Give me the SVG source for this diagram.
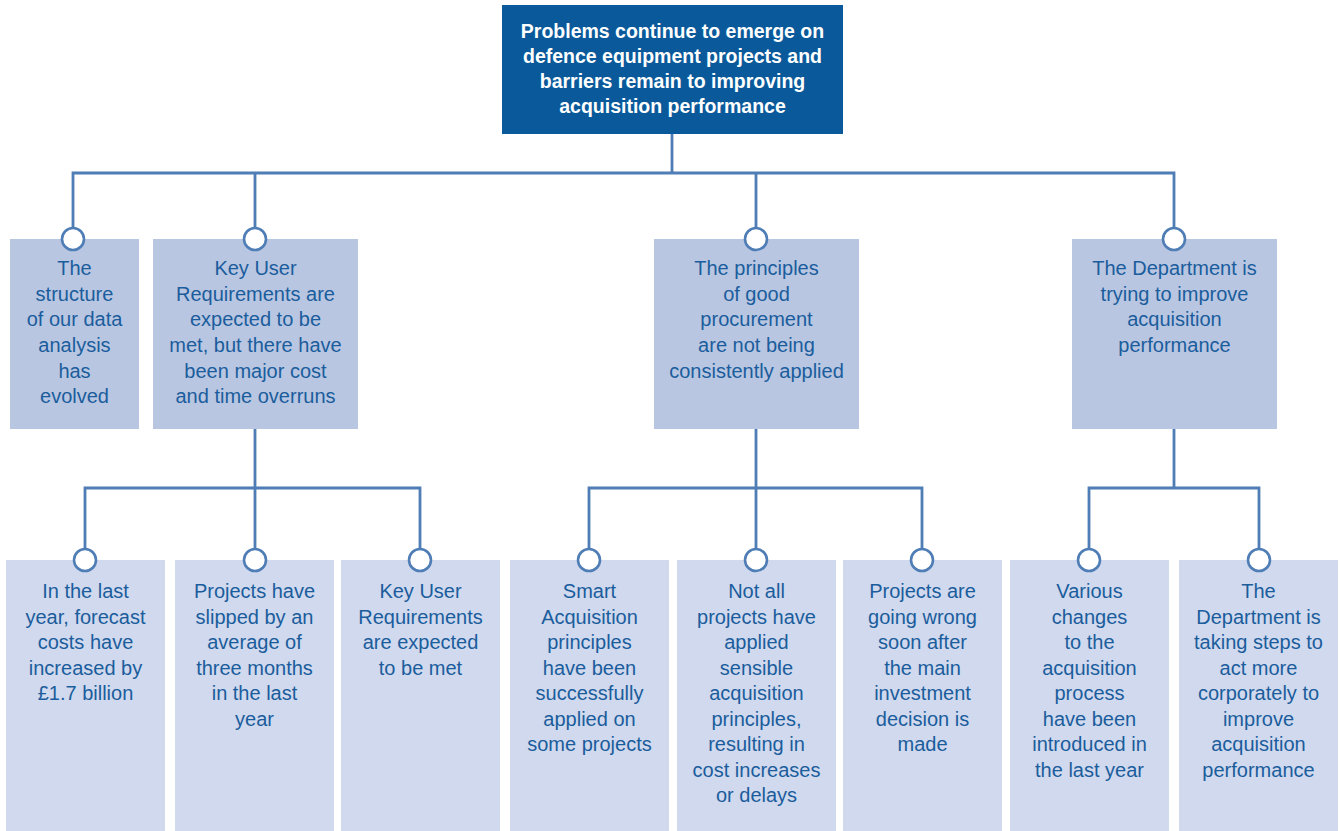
<svg xmlns="http://www.w3.org/2000/svg" width="1340" height="831" viewBox="0 0 1340 831">
<style>
.l1{fill:#b8c6e2}
.l2{fill:#d0d9ee}
.t{font-family:"Liberation Sans",Arial,sans-serif;font-size:20px;fill:#1b5d9c;text-anchor:middle}
.tt{font-family:"Liberation Sans",Arial,sans-serif;font-size:19.5px;font-weight:bold;fill:#ffffff;text-anchor:middle}
.c{fill:none;stroke:#4f7db5;stroke-width:2.8}
.dot{fill:#ffffff;stroke:#4f7db5;stroke-width:2.6}
</style>
<rect width="1340" height="831" fill="#ffffff"/>
<g id="connectors">
<path class="c" d="M672,133 V173 M73,239 V173 H1174 V239 M255,173 V239 M756,173 V239"/>
<path class="c" d="M255,428 V488 M85,560 V488 H420 V560 M255,488 V560"/>
<path class="c" d="M756,428 V488 M589,560 V488 H922 V560 M756,488 V560"/>
<path class="c" d="M1174,428 V488 M1089,560 V488 H1259 V560"/>
</g>
<g id="root">
<rect x="502" y="5" width="341" height="129" fill="#0a5a9b"/>
<text class="tt"><tspan x="672.5" y="38">Problems continue to emerge on</tspan><tspan x="672.5" y="63">defence equipment projects and</tspan><tspan x="672.5" y="88">barriers remain to improving</tspan><tspan x="672.5" y="113">acquisition performance</tspan></text>
</g>
<g id="n1">
<rect class="l1" x="10" y="239" width="129" height="190"/>
<text class="t"><tspan x="74.5" y="275">The</tspan><tspan x="74.5" y="300.7">structure</tspan><tspan x="74.5" y="326.3">of our data</tspan><tspan x="74.5" y="352">analysis</tspan><tspan x="74.5" y="377.7">has</tspan><tspan x="74.5" y="403.3">evolved</tspan></text>
<circle class="dot" cx="73" cy="239" r="11"/>
</g>
<g id="n2">
<rect class="l1" x="153" y="239" width="205" height="190"/>
<text class="t"><tspan x="255.5" y="275">Key User</tspan><tspan x="255.5" y="300.7">Requirements are</tspan><tspan x="255.5" y="326.3">expected to be</tspan><tspan x="255.5" y="352">met, but there have</tspan><tspan x="255.5" y="377.7">been major cost</tspan><tspan x="255.5" y="403.3">and time overruns</tspan></text>
<circle class="dot" cx="255" cy="239" r="11"/>
</g>
<g id="n3">
<rect class="l1" x="654" y="239" width="205" height="190"/>
<text class="t"><tspan x="756.5" y="275">The principles</tspan><tspan x="756.5" y="300.7">of good</tspan><tspan x="756.5" y="326.3">procurement</tspan><tspan x="756.5" y="352">are not being</tspan><tspan x="756.5" y="377.7">consistently applied</tspan></text>
<circle class="dot" cx="756" cy="239" r="11"/>
</g>
<g id="n4">
<rect class="l1" x="1072" y="239" width="205" height="190"/>
<text class="t"><tspan x="1174.5" y="275">The Department is</tspan><tspan x="1174.5" y="300.7">trying to improve</tspan><tspan x="1174.5" y="326.3">acquisition</tspan><tspan x="1174.5" y="352">performance</tspan></text>
<circle class="dot" cx="1174" cy="239" r="11"/>
</g>
<g id="n5">
<rect class="l2" x="6" y="560" width="159" height="271"/>
<text class="t"><tspan x="85.5" y="598">In the last</tspan><tspan x="85.5" y="623.5">year, forecast</tspan><tspan x="85.5" y="649">costs have</tspan><tspan x="85.5" y="674.5">increased by</tspan><tspan x="85.5" y="700">£1.7 billion</tspan></text>
<circle class="dot" cx="85" cy="560" r="11"/>
</g>
<g id="n6">
<rect class="l2" x="175" y="560" width="159" height="271"/>
<text class="t"><tspan x="254.5" y="598">Projects have</tspan><tspan x="254.5" y="623.5">slipped by an</tspan><tspan x="254.5" y="649">average of</tspan><tspan x="254.5" y="674.5">three months</tspan><tspan x="254.5" y="700">in the last</tspan><tspan x="254.5" y="725.5">year</tspan></text>
<circle class="dot" cx="255" cy="560" r="11"/>
</g>
<g id="n7">
<rect class="l2" x="341" y="560" width="159" height="271"/>
<text class="t"><tspan x="420.5" y="598">Key User</tspan><tspan x="420.5" y="623.5">Requirements</tspan><tspan x="420.5" y="649">are expected</tspan><tspan x="420.5" y="674.5">to be met</tspan></text>
<circle class="dot" cx="420" cy="560" r="11"/>
</g>
<g id="n8">
<rect class="l2" x="510" y="560" width="159" height="271"/>
<text class="t"><tspan x="589.5" y="598">Smart</tspan><tspan x="589.5" y="623.5">Acquisition</tspan><tspan x="589.5" y="649">principles</tspan><tspan x="589.5" y="674.5">have been</tspan><tspan x="589.5" y="700">successfully</tspan><tspan x="589.5" y="725.5">applied on</tspan><tspan x="589.5" y="751">some projects</tspan></text>
<circle class="dot" cx="589" cy="560" r="11"/>
</g>
<g id="n9">
<rect class="l2" x="677" y="560" width="159" height="271"/>
<text class="t"><tspan x="756.5" y="598">Not all</tspan><tspan x="756.5" y="623.5">projects have</tspan><tspan x="756.5" y="649">applied</tspan><tspan x="756.5" y="674.5">sensible</tspan><tspan x="756.5" y="700">acquisition</tspan><tspan x="756.5" y="725.5">principles,</tspan><tspan x="756.5" y="751">resulting in</tspan><tspan x="756.5" y="776.5">cost increases</tspan><tspan x="756.5" y="802">or delays</tspan></text>
<circle class="dot" cx="756" cy="560" r="11"/>
</g>
<g id="n10">
<rect class="l2" x="843" y="560" width="159" height="271"/>
<text class="t"><tspan x="922.5" y="598">Projects are</tspan><tspan x="922.5" y="623.5">going wrong</tspan><tspan x="922.5" y="649">soon after</tspan><tspan x="922.5" y="674.5">the main</tspan><tspan x="922.5" y="700">investment</tspan><tspan x="922.5" y="725.5">decision is</tspan><tspan x="922.5" y="751">made</tspan></text>
<circle class="dot" cx="922" cy="560" r="11"/>
</g>
<g id="n11">
<rect class="l2" x="1010" y="560" width="159" height="271"/>
<text class="t"><tspan x="1089.5" y="598">Various</tspan><tspan x="1089.5" y="623.5">changes</tspan><tspan x="1089.5" y="649">to the</tspan><tspan x="1089.5" y="674.5">acquisition</tspan><tspan x="1089.5" y="700">process</tspan><tspan x="1089.5" y="725.5">have been</tspan><tspan x="1089.5" y="751">introduced in</tspan><tspan x="1089.5" y="776.5">the last year</tspan></text>
<circle class="dot" cx="1089" cy="560" r="11"/>
</g>
<g id="n12">
<rect class="l2" x="1179" y="560" width="159" height="271"/>
<text class="t"><tspan x="1258.5" y="598">The</tspan><tspan x="1258.5" y="623.5">Department is</tspan><tspan x="1258.5" y="649">taking steps to</tspan><tspan x="1258.5" y="674.5">act more</tspan><tspan x="1258.5" y="700">corporately to</tspan><tspan x="1258.5" y="725.5">improve</tspan><tspan x="1258.5" y="751">acquisition</tspan><tspan x="1258.5" y="776.5">performance</tspan></text>
<circle class="dot" cx="1259" cy="560" r="11"/>
</g>
</svg>
